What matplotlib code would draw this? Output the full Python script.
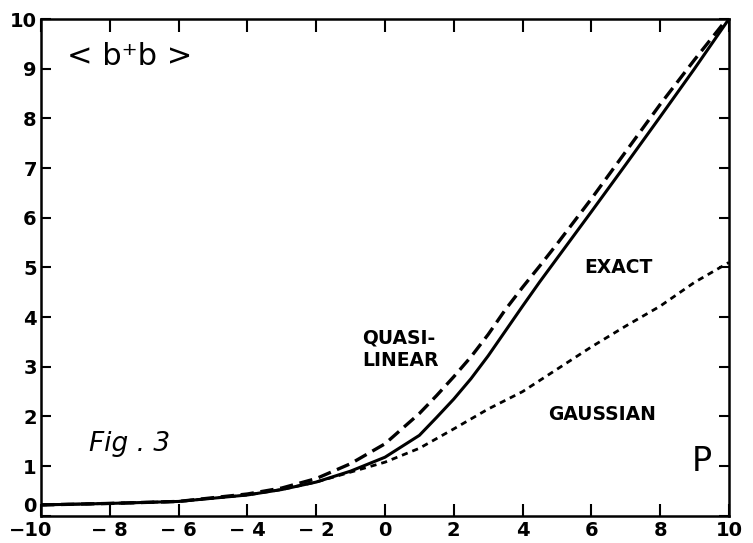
import numpy as np
import matplotlib
matplotlib.use("Agg")
import matplotlib.pyplot as plt
from matplotlib.transforms import offset_copy

# values
p_exact = [-10, -8, -6, -4, -3, -2, -1, 0, 1, 1.5, 2, 2.5, 3, 3.5, 4, 4.5, 5, 5.5, 6, 7, 8, 9, 10]
b_exact = [0.22, 0.25, 0.29, 0.42, 0.53, 0.68, 0.9, 1.18, 1.62, 1.98, 2.35, 2.76, 3.22, 3.72, 4.22, 4.71, 5.18, 5.65, 6.12, 7.07, 8.03, 9.0, 10.0]

p_quasi = [-10, -8, -6, -4, -3, -2, -1, 0, 1, 1.5, 2, 2.5, 3, 3.5, 4, 4.5, 5, 6, 7, 8, 9, 10]
b_quasi = [0.22, 0.25, 0.29, 0.44, 0.56, 0.75, 1.05, 1.45, 2.06, 2.42, 2.8, 3.2, 3.65, 4.15, 4.6, 5.03, 5.47, 6.38, 7.33, 8.28, 9.18, 10.05]

p_gauss = [-10, -8, -6, -4, -3, -2, -1, 0, 1, 2, 3, 4, 5, 6, 7, 8, 9, 10]
b_gauss = [0.22, 0.25, 0.29, 0.42, 0.53, 0.68, 0.88, 1.08, 1.36, 1.75, 2.15, 2.5, 2.95, 3.4, 3.82, 4.22, 4.7, 5.1]

xticks = list(range(-10, 11, 2))
xlabels = ["\u221210", "\u2212 8", "\u2212 6", "\u2212 4", "\u2212 2", "0", "2", "4", "6", "8", "10"]
yticks = list(range(0, 11))


fig = plt.figure(figsize=(7.53, 5.43), dpi=100)
ax = fig.add_axes([0.0545, 0.05, 0.9135, 0.915])

ax.plot(p_exact, b_exact, color="black", lw=2.2, solid_capstyle="round")
ax.plot(p_quasi, b_quasi, color="black", lw=2.4, dashes=(4, 2))
ax.plot(p_gauss, b_gauss, color="black", lw=2.0, dashes=(2.2, 1.8))

ax.set_xlim(-10, 10)
ax.set_ylim(0, 10)
ax.set_xticks(xticks)
ax.set_xticklabels(xlabels)
ax.set_yticks(yticks)
ax.tick_params(direction="in", length=9, width=1.5, top=True, right=True,
               labelsize=14, pad=4)
ax.tick_params(axis="y", length=7, pad=3)
for lab in ax.get_xticklabels() + ax.get_yticklabels():
    lab.set_fontweight("bold")
    lab.set_family("DejaVu Sans")
# the corner labels sit off their ticks in the original
ax.get_yticklabels()[0].set_va("bottom")
first = ax.get_xticklabels()[0]
first.set_transform(offset_copy(first.get_transform(), fig=fig, x=-10, y=0, units="dots"))
for s in ax.spines.values():
    s.set_linewidth(1.8)

# annotations
ax.text(-9.25, 9.25, "< b\u207ab >", fontsize=22, va="center", ha="left")
ax.text(-8.6, 1.45, "Fig . 3", fontsize=19, style="italic", va="center", ha="left")
ax.text(-0.65, 3.58, "QUASI-", fontsize=13.5, fontweight="bold", va="center", ha="left")
ax.text(-0.65, 3.12, "LINEAR", fontsize=13.5, fontweight="bold", va="center", ha="left")
ax.text(5.8, 5.0, "EXACT", fontsize=13.5, fontweight="bold", va="center", ha="left")
ax.text(4.75, 2.03, "GAUSSIAN", fontsize=13.5, fontweight="bold", va="center", ha="left")
ax.text(9.2, 1.1, "P", fontsize=24, va="center", ha="center")

fig.savefig("out.png", dpi=100)
